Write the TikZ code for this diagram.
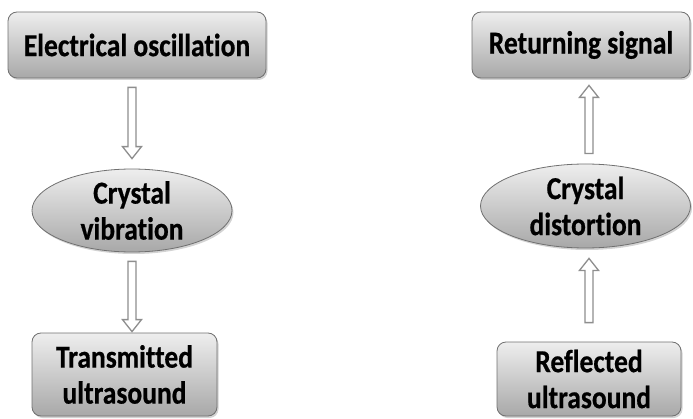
\documentclass[tikz,border=0pt]{standalone}
\usepackage{fontspec}
\setmainfont{Carlito}
\newfontfamily\stagefont{Carlito}[FakeStretch=0.86, FakeBold=0.6, Ligatures=NoCommon]
\usetikzlibrary{calc,shadows,shapes.geometric}
\definecolor{boxtop}{HTML}{EEEEEE}
\definecolor{boxbottom}{HTML}{A8A8A8}
\definecolor{boxline}{HTML}{707070}
\definecolor{arrowline}{HTML}{8E8E8E}
\tikzset{
  stage/.style={shape=rectangle, rounded corners=9pt, draw=boxline, line width=0.8pt,
    top color=boxtop, bottom color=boxbottom,
    drop shadow={shadow xshift=1.5pt, shadow yshift=-2pt, opacity=0.35},
    align=center, inner sep=0pt, font=\stagefont\bfseries\fontsize{32}{36}\selectfont},
  crystal/.style={stage, shape=ellipse, rounded corners=0pt},
  hollow/.style={draw=arrowline, line width=1.3pt, fill=white, line join=miter,
    to path={let \p1=(\tikztostart), \p2=(\tikztotarget),
      \n1={\y2-ifthenelse(\y2>\y1,12,-12)} in
      (\x1-4pt,\y1) -- (\x1-4pt,\n1*1pt) -- (\x1-9.5pt,\n1*1pt)
      -- (\x2,\y2) -- (\x1+9.5pt,\n1*1pt) -- (\x1+4pt,\n1*1pt)
      -- (\x1+4pt,\y1) -- cycle}}
}
\begin{document}
\begin{tikzpicture}[x=1pt, y=1pt]
\useasboundingbox (0,0) rectangle (693,418);
% sending side
\node [stage, minimum width=258pt, minimum height=66pt] (eo) at (137,373) {Electrical oscillation};
\node [crystal, minimum width=200pt, minimum height=75pt] (cv) at (132,207.5) {Crystal\\vibration};
\node [stage, minimum width=185pt, minimum height=83pt] (tu) at (124.5,43.5) {Transmitted\\ultrasound};
% receiving side
\node [stage, minimum width=218pt, minimum height=66pt] (rs) at (581,373) {Returning signal};
\node [crystal, minimum width=210pt, minimum height=84pt] (cd) at (585.5,212) {Crystal\\distortion};
\node [stage, minimum width=184pt, minimum height=74pt] (ru) at (589,39) {Reflected\\ultrasound};
% arrows
\draw [hollow] ($(eo.south -| cv.north)+(0,-9)$) to ($(cv.north)+(0,10)$);
\draw [hollow] ($(cv.south)+(0,-9)$) to ($(tu.north -| cv.south)+(0,1)$);
\draw [hollow] ($(ru.north)+(0,19)$) to ($(cd.south -| ru.north)+(0,-10)$);
\draw [hollow] ($(cd.north -| ru.north)+(0,10)$) to ($(rs.south -| ru.north)+(0,-7)$);
\end{tikzpicture}
\end{document}
